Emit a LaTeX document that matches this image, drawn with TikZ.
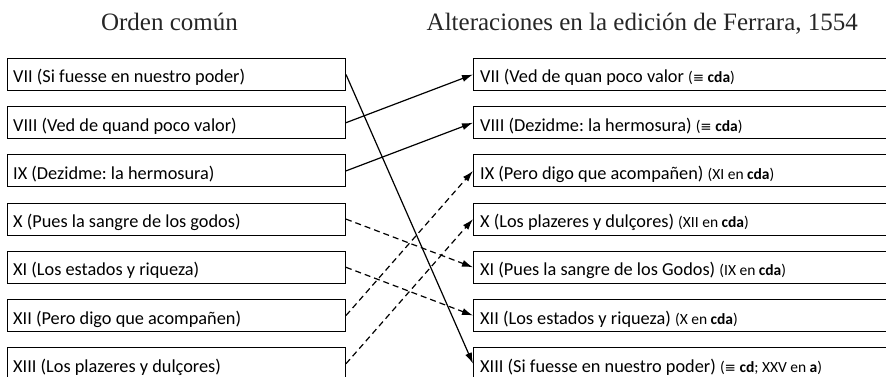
\documentclass[tikz,border=0pt]{standalone}
\usepackage{fontspec}
\setmainfont{Carlito}
\newfontfamily\titfont{Liberation Serif}
\newfontfamily\eqvfont{DejaVu Sans}
\usetikzlibrary{arrows.meta}
\frenchspacing
\newcommand{\smallpart}[1]{{\fontsize{15.5}{18}\selectfont #1}}
\newcommand{\eqv}{{\eqvfont\fontsize{13.5}{15}\selectfont ≡}}
\begin{document}
\begin{tikzpicture}[x=1pt,y=-1pt,
  box/.style={draw=black, line width=1pt, minimum height=32pt, inner sep=0pt, anchor=north west, fill=white},
  lbox/.style={box, minimum width=338pt},
  rbox/.style={box, minimum width=425pt},
  lbl/.style={anchor=base west, inner sep=0pt, font=\fontsize{18.3}{21}\selectfont},
  ttl/.style={anchor=base, inner sep=0pt, font=\titfont\fontsize{25}{29}\selectfont, text=black!85},
  conn/.style={line width=1.2pt, -{Latex[length=11pt,width=7pt]}},
  dconn/.style={conn, dash pattern=on 6pt off 4pt}]
\useasboundingbox (0,0) rectangle (886,377);
\clip (0,0) rectangle (886,377);
\node[ttl] (t1) at (169.5,31) {Orden común};
\node[ttl, anchor=base east] (t2) at (858,31) {Alteraciones en la edición de Ferrara, 1554};
% left boxes
\foreach \i/\n in {0/L7,1/L8,2/L9,3/L10,4/L11,5/L12,6/L13}{
  \node[lbox] (\n) at (7,58+48.2*\i) {};
}
\foreach \i/\n in {0/R7,1/R8,2/R9,3/R10,4/R11,5/R12,6/R13}{
  \node[rbox] (\n) at (473,58+48.2*\i) {};
}
\node[lbl] (L7t) at ([shift={(6pt,8pt)}]L7.south west) {VII (Si fuesse en nuestro poder)};
\node[lbl] (L8t) at ([shift={(6pt,8pt)}]L8.south west) {VIII (Ved de quand poco valor)};
\node[lbl] (L9t) at ([shift={(6pt,8pt)}]L9.south west) {IX (Dezidme: la hermosura)};
\node[lbl] (L10t) at ([shift={(6pt,8pt)}]L10.south west) {X (Pues la sangre de los godos)};
\node[lbl] (L11t) at ([shift={(6pt,8pt)}]L11.south west) {XI (Los estados y riqueza)};
\node[lbl] (L12t) at ([shift={(6pt,8pt)}]L12.south west) {XII (Pero digo que acompañen)};
\node[lbl] (L13t) at ([shift={(6pt,8pt)}]L13.south west) {XIII (Los plazeres y dulçores)};
\node[lbl] (R7t) at ([shift={(7pt,8pt)}]R7.south west) {VII (Ved de quan poco valor \smallpart{(\eqv\ \textbf{cda})}};
\node[lbl] (R8t) at ([shift={(7pt,8pt)}]R8.south west) {VIII (Dezidme: la hermosura) \smallpart{(\eqv\ \textbf{cda})}};
\node[lbl] (R9t) at ([shift={(7pt,8pt)}]R9.south west) {IX (Pero digo que acompañen) \smallpart{(XI en \textbf{cda})}};
\node[lbl] (R10t) at ([shift={(7pt,8pt)}]R10.south west) {X (Los plazeres y dulçores) \smallpart{(XII en \textbf{cda})}};
\node[lbl] (R11t) at ([shift={(7pt,8pt)}]R11.south west) {XI (Pues la sangre de los Godos) \smallpart{(IX en \textbf{cda})}};
\node[lbl] (R12t) at ([shift={(7pt,8pt)}]R12.south west) {XII (Los estados y riqueza) \smallpart{(X en \textbf{cda})}};
\node[lbl] (R13t) at ([shift={(7pt,8pt)}]R13.south west) {XIII (Si fuesse en nuestro poder) \smallpart{(\eqv\ \textbf{cd}; XXV en \textbf{a})}};
% connectors
\draw[conn] (L7.east) -- (R13.west);
\draw[conn] (L8.east) -- (R7.west);
\draw[conn] (L9.east) -- (R8.west);
\draw[dconn] (L10.east) -- (R11.west);
\draw[dconn] (L11.east) -- (R12.west);
\draw[dconn] (L12.east) -- (R9.west);
\draw[dconn] (L13.east) -- (R10.west);
\end{tikzpicture}
\end{document}
